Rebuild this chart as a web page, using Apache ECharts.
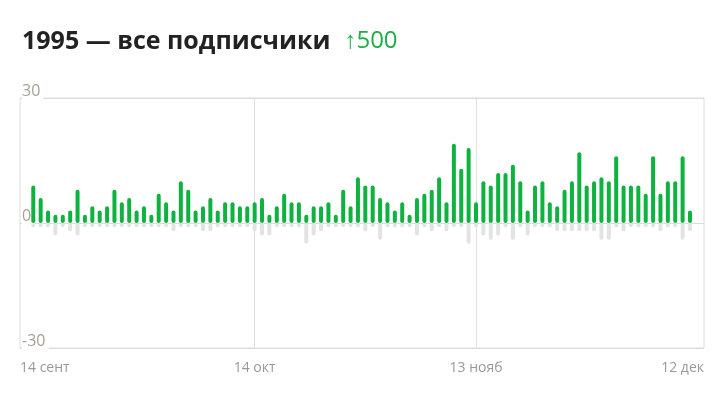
<!DOCTYPE html>
<html>
<head>
<meta charset="utf-8">
<script src="https://cdn.jsdelivr.net/npm/echarts@6/dist/echarts.min.js"></script>
<style>
  html, body { margin: 0; padding: 0; background: #fff; }
  #chart { width: 719px; height: 400px; }
</style>
</head>
<body>
<div id="chart"></div>
<script>
// daily new subscribers / unsubscribes, 14 Sep .. 12 Dec (90 days)
const gained = [
  9, 6, 3, 2, 2, 3, 8, 2, 4, 3,
  4, 8, 5, 6, 3, 4, 2, 7, 5, 3,
  10, 8, 3, 4, 6, 3, 5, 5, 4, 4,
  5, 6, 2, 4, 7, 5, 5, 2, 4, 4,
  5, 2, 8, 4, 11, 9, 9, 6, 5, 3,
  5, 2, 6, 7, 8, 11, 5, 19, 13, 18,
  5, 10, 9, 12, 12, 14, 10, 3, 9, 10,
  5, 4, 8, 10, 17, 9, 10, 11, 10, 16,
  9, 9, 9, 7, 16, 7, 10, 10, 16, 3
];
const lost = [
  -1, -1, -1, -3, -1, -2, -3, -1, -1, -1,
  -1, -1, -1, -1, -1, -1, -1, -1, -1, -2,
  -1, -1, -1, -2, -2, -1, -1, -1, -1, -1,
  -2, -3, -3, -1, -1, -1, -1, -5, -3, -2,
  -1, -1, -1, -1, -1, -2, -1, -4, -1, -1,
  -1, -1, -3, -1, -2, -1, -2, -1, -1, -5,
  -1, -3, -4, -3, -1, -4, -1, -3, -1, -1,
  -1, -2, -2, -2, -2, -2, -2, -4, -4, -1,
  -2, -1, -1, -1, -1, -2, -1, -1, -4, -2
];

const xMin = -1.8;
const xMax = 90.9;
const tickDays = [xMin, 30, 60, xMax];
const tickLabels = ['14 сент', '14 окт', '13 нояб', '12 дек'];
const yTicks = [-30, 0, 30];

const chart = echarts.init(document.getElementById('chart'));

const option = {
  animation: false,
  title: {
    left: 17,
    top: 24,
    text: '{t|1995 — все подписчики}{g|↑500}',
    textStyle: {
      rich: {
        t: { fontFamily: 'Open Sans', fontSize: 25, fontWeight: 'bold', color: '#222' },
        g: { fontFamily: 'Open Sans', fontSize: 24, fontWeight: 'normal', color: '#1aaf47', padding: [0, 0, 0, 14] }
      }
    }
  },
  grid: {
    left: 20, right: 15, top: 98, bottom: 52,
    show: true, borderColor: '#dcdcdc', borderWidth: 1
  },
  xAxis: {
    type: 'value',
    min: xMin,
    max: xMax,
    axisLine: { show: false, onZero: false },
    axisTick: { show: false, customValues: [30, 60] },
    splitLine: { show: true, lineStyle: { color: '#e0e0e0' } },
    axisLabel: {
      customValues: tickDays,
      margin: 13,
      fontFamily: 'Open Sans',
      fontSize: 14,
      color: '#999',
      alignMinLabel: 'left',
      alignMaxLabel: 'right',
      formatter: function (v) {
        let best = 0;
        tickDays.forEach(function (d, i) {
          if (Math.abs(d - v) < Math.abs(tickDays[best] - v)) best = i;
        });
        return tickLabels[best];
      }
    }
  },
  yAxis: {
    type: 'value',
    min: yTicks[0],
    max: yTicks[2],
    interval: 30,
    axisLine: { show: false },
    axisTick: { show: false },
    splitLine: { lineStyle: { color: '#dcdcdc' } },
    axisLabel: {
      inside: true,
      margin: 2,
      verticalAlign: 'middle',
      backgroundColor: '#fff',
      padding: [0, 3, 0, 0],
      formatter: function (v) { return '{v|' + v + '}\n{s| }'; },
      rich: {
        v: { fontFamily: 'Open Sans', fontSize: 16, lineHeight: 20, color: '#a8a093' },
        s: { fontSize: 2, lineHeight: 14 }
      }
    }
  },
  series: [
    {
      type: 'bar',
      data: lost.map(function (v, i) { return [i, v]; }),
      barWidth: 4,
      barGap: '-100%',
      itemStyle: { color: '#e3e3e3', borderRadius: 2 }
    },
    {
      type: 'bar',
      data: gained.map(function (v, i) { return [i, v]; }),
      barWidth: 4,
      barGap: '-100%',
      itemStyle: { color: '#0db33e', borderRadius: 2 }
    }
  ]
};

chart.setOption(option);
</script>
</body>
</html>
